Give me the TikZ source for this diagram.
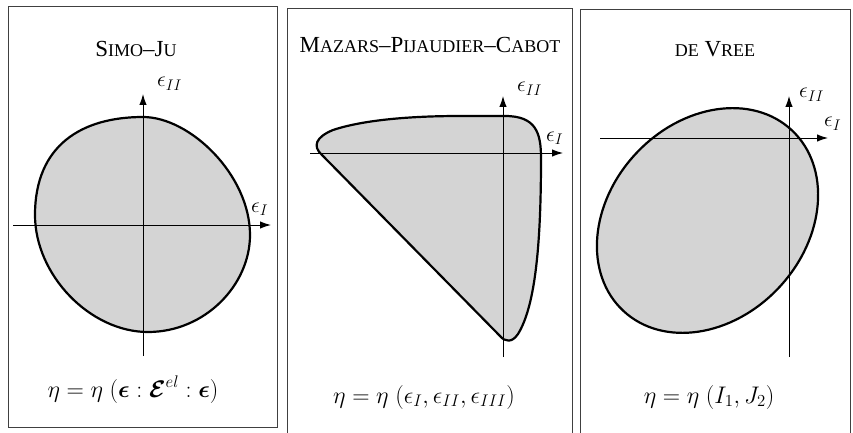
\RequirePackage{fix-cm}
\documentclass[tikz,border=0pt]{standalone}
\usepackage{amsmath,amssymb}
\usepackage{fontspec}
\setmainfont{Liberation Serif}
\usetikzlibrary{arrows.meta}
\newcommand{\smc}[1]{{\fontsize{18}{20}\selectfont #1}}

\begin{document}
\begin{tikzpicture}[x=1pt,y=-1pt,
panel/.style={draw=black!75,line width=0.8pt},
surf/.style={draw,line width=2.2pt,fill=black!17,line join=round},
axis/.style={line width=1pt,-{Latex[length=11pt,width=7.5pt]}},
ttl/.style={anchor=base,font=\fontsize{23}{26}\selectfont},
lbl/.style={anchor=base west,inner sep=0pt,font=\fontsize{22}{24}\selectfont},
eqn/.style={anchor=base,font=\fontsize{24}{28}\selectfont}]
\useasboundingbox (0,0) rectangle (853,433);
\draw[panel] (8,6) rectangle (277,427);
\draw[panel] (287,433) -- (287,8) -- (572,8) -- (572,433);
\draw[panel] (580,433) -- (580,9) -- (850,9) -- (850,433);
\node[ttl] (t1) at (136,57) {S\smc{IMO}--J\smc{U}};
\node[ttl] (t2) at (430,53) {M\smc{AZARS}--P\smc{IJAUDIER}--C\smc{ABOT}};
\node[ttl] (t3) at (715,57) {\smc{DE} V\smc{REE}};
\draw[surf] (143,117) .. controls (190,117) and (250,175) .. (250,235) .. controls (250,285) and (205,332) .. (148,332) .. controls (90,332) and (35,275) .. (35,215) .. controls (35,145) and (82,117) .. cycle;
\draw[surf] (500,336) -- (322,155) .. controls (312,146) and (316,137) .. (333,130) .. controls (363,120) and (410,116) .. (460,116) -- (505,116) .. controls (536,116) and (541,133) .. (541,158) .. controls (541,240) and (536,305) .. (518,334) .. controls (512,343) and (505,342) .. (500,336) -- cycle;
\coordinate (c3) at (707.5,220.5);
\draw[surf,rotate around={47:(c3)}] (c3) ellipse [x radius=123.5,y radius=98];
\coordinate (a1s) at (143,356); \coordinate (a1n) at (143,94);
\coordinate (a1w) at (13,225); \coordinate (a1e) at (271,225);
\coordinate (a2s) at (503,357); \coordinate (a2n) at (503,96);
\coordinate (a2w) at (310,153); \coordinate (a2e) at (563,153);
\coordinate (a3s) at (789,357); \coordinate (a3n) at (789,96);
\coordinate (a3w) at (600,138); \coordinate (a3e) at (828,138);
\draw[axis] (a1s) -- (a1n); \draw[axis] (a1w) -- (a1e);
\draw[axis] (a2s) -- (a2n); \draw[axis] (a2w) -- (a2e);
\draw[axis] (a3s) -- (a3n); \draw[axis] (a3w) -- (a3e);
\node[lbl] (x1) at (251,212) {$\epsilon_I$};
\node[lbl] (y1) at (157,87) {$\epsilon_{II}$};
\node[lbl] (x2) at (546,141) {$\epsilon_I$};
\node[lbl] (y2) at (517,92) {$\epsilon_{II}$};
\node[lbl] (x3) at (824,127) {$\epsilon_I$};
\node[lbl] (y3) at (799,98) {$\epsilon_{II}$};
\node[eqn] (e1) at (133,397) {$\eta = \eta\;(\boldsymbol{\epsilon}:\boldsymbol{\mathcal{E}}^{el}:\boldsymbol{\epsilon})$};
\node[eqn] (e2) at (424,403) {$\eta = \eta\;(\epsilon_I,\epsilon_{II},\epsilon_{III})$};
\node[eqn] (e3) at (709,403) {$\eta = \eta\;(I_1,J_2)$};
\end{tikzpicture}
\end{document}
